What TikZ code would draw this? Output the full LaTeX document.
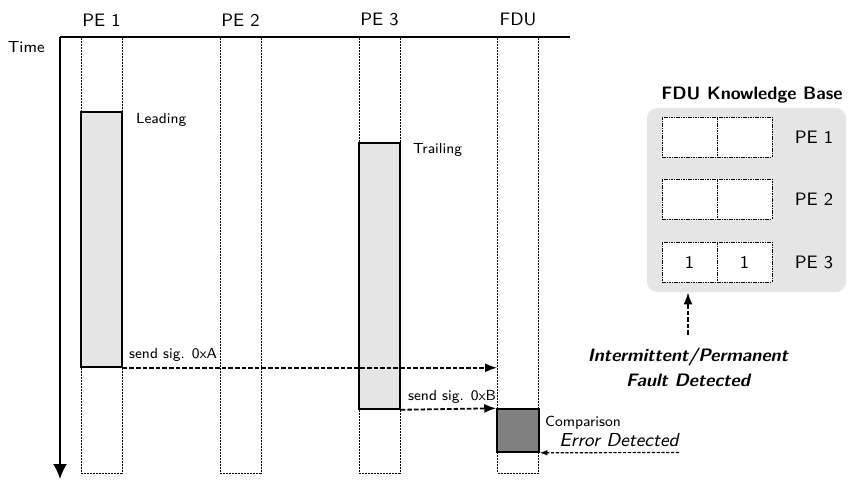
\documentclass[tikz,border=0pt]{standalone}
\usepackage{tikz}
\usetikzlibrary{positioning,arrows.meta,calc}
\begin{document}
\begin{tikzpicture}[
  x=0.5pt,y=-0.5pt,
  lbl/.style={font=\sffamily\fontsize{9}{11}\selectfont,inner sep=0pt},
  note/.style={font=\sffamily\fontsize{7.3}{9}\selectfont,inner sep=0pt},
  lane/.style={draw,dash pattern=on 1pt off 0.5pt,line width=0.4pt,minimum width=20.5pt,minimum height=218pt,inner sep=0pt},
  task/.style={draw,line width=0.75pt,fill=black!10,minimum width=20.5pt,inner sep=0pt},
  cell/.style={draw,dash pattern=on 0.8pt off 0.4pt,line width=0.4pt,fill=white,minimum width=27.5pt,minimum height=20pt,inner sep=0pt,font=\sffamily\fontsize{9}{11}\selectfont},
  sig/.style={-{Latex[length=6pt,width=4.5pt]},line width=0.9pt,dash pattern=on 2.3pt off 1pt}]
\useasboundingbox (0,0) rectangle (850,479);
% time axis
\coordinate (origin) at (60,37);
\coordinate (tright) at (570,37);
\coordinate (tbottom) at (60,479);
\draw[line width=0.9pt] (tright) -- (origin);
\draw[line width=0.9pt,-{Latex[length=7.5pt,width=7pt]}] (origin) -- (tbottom);
\node[lbl,font=\sffamily\fontsize{8}{10}\selectfont,anchor=north east] (time) at ($(origin)+(-15,4)$) {Time};
% lanes
\foreach \n/\x/\t in {pe1/101.5/PE 1,pe2/240.5/PE 2,pe3/379.5/PE 3,fdu/518/FDU}{
  \node[lane] (\n) at (\x,255) {};
  \node[lbl,above=5pt of \n] (\n-lbl) {\t};
}
% leading / trailing runs
\node[task,minimum height=127.5pt] (lead) at (101.5,239.5) {};
\node[task,minimum height=133pt] (trail) at (379.5,276) {};
\node[task,fill=black!50,minimum width=21pt,minimum height=21.5pt] (cmp) at (518,430.5) {};
\node[note,anchor=north west] at ($(lead.north east)+(13,2)$) {Leading};
\node[note,anchor=north west] at ($(trail.north east)+(12,1)$) {Trailing};
\node[note,anchor=north west] at ($(cmp.north east)+(5,8)$) {Comparison};
% signatures
\draw[sig] (lead.south east) -- (lead.south east -| fdu.west);
\node[note,anchor=base west] at ($(lead.south east)+(6,-9)$) {send sig. 0xA};
\draw[sig] (trail.south east) -- (cmp.north west);
\node[note,anchor=base west] at ($(trail.south east)+(7,-9)$) {send sig. 0xB};
\coordinate (errsrc) at (679,452.5);
\draw[-{Latex[length=3.8pt,width=2.8pt]},line width=0.6pt,dash pattern=on 1.6pt off 0.8pt] (errsrc) -- (cmp.south east);
\node[lbl,font=\sffamily\itshape\fontsize{9.4}{11}\selectfont,anchor=base east] at ($(errsrc)+(0,-6)$) {Error Detected};
% knowledge base
\node[fill=black!10,rounded corners=5pt,minimum width=99.5pt,minimum height=92pt] (kb) at (746.5,200) {};
\node[lbl,font=\sffamily\bfseries\fontsize{9}{11}\selectfont,anchor=base] (kbtitle) at ($(kb.north)+(5.5,-8)$) {FDU Knowledge Base};
\foreach \r/\y/\v in {1/137/{},2/199/{},3/262/1}{
  \node[cell] (c\r a) at (689.5,\y) {\v};
  \node[cell] (c\r b) at (744.5,\y) {\v};
  \node[lbl] (k\r) at (814,\y) {PE \r};
}
\node[lbl,font=\sffamily\bfseries\slshape\fontsize{9}{12.5}\selectfont,align=center,anchor=north] (fault) at (688,348) {Intermittent/Permanent\\Fault Detected};
\draw[sig,shorten <=6.5pt] (fault.north) -- (fault.north |- kb.south);
\end{tikzpicture}
\end{document}
